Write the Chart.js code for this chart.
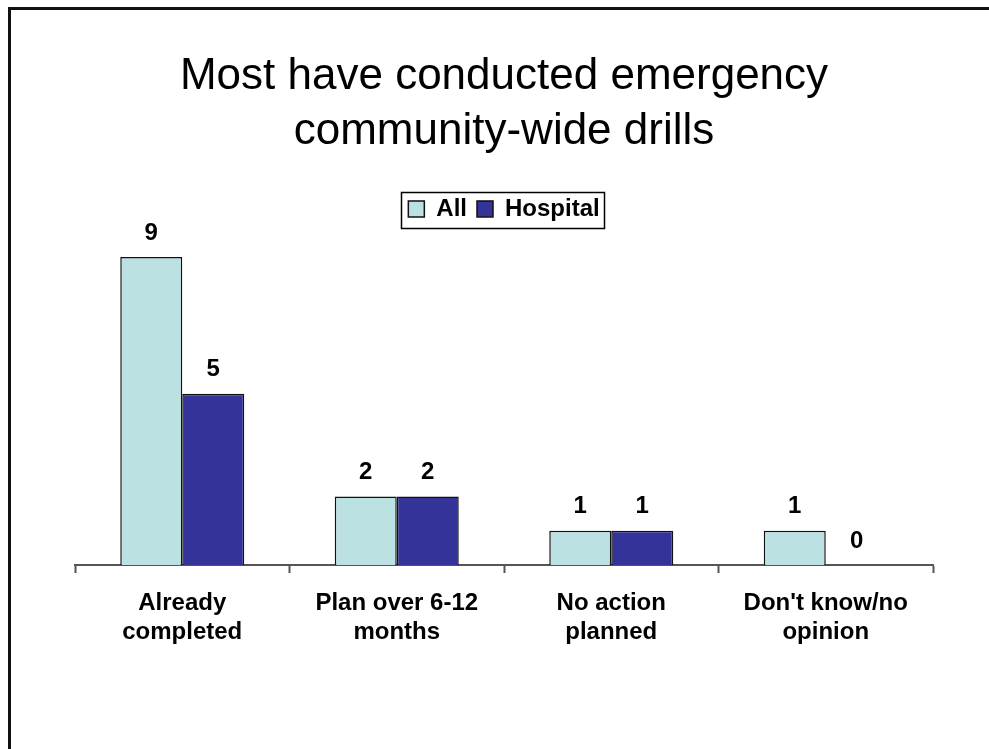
<!DOCTYPE html>
<html>
<head>
<meta charset="utf-8">
<script src="https://cdn.jsdelivr.net/npm/chart.js@4.4.0/dist/chart.umd.min.js"></script>
<style>
  body { margin: 0; background: #fff; }
  #wrap { position: relative; width: 989px; height: 749px; overflow: hidden; }
  #frame { position: absolute; left: 8px; top: 7px; width: 1000px; height: 800px;
           border-top: 3px solid #111; border-left: 3px solid #111; pointer-events: none; }
  canvas { position: absolute; left: 0; top: 0; }
</style>
</head>
<body>
<div id="wrap">
  <canvas id="chart" width="989" height="749"></canvas>
  <div id="frame"></div>
</div>
<script>
// chart data
const categories = [
    ['Already', 'completed'],
    ['Plan over 6-12', 'months'],
    ['No action', 'planned'],
    ["Don't know/no", 'opinion']
];
const allValues = [9, 2, 1, 1];
const hospitalValues = [5, 2, 1, 0];
const seriesNames = ['All', 'Hospital'];
const titleLines = ['Most have conducted emergency', 'community-wide drills'];

const FONT = "'Liberation Sans', Arial, sans-serif";

//Value labels above each bar
const valueLabels = {
    id: 'valueLabels',
    afterDatasetsDraw(chart) {
        const ctx = chart.ctx;
        ctx.save();
        ctx.font = `bold 24px ${FONT}`;
        ctx.fillStyle = '#000';
        ctx.textAlign = 'center';
        ctx.textBaseline = 'middle';
        chart.data.datasets.forEach((ds, i) => {
            chart.getDatasetMeta(i).data.forEach((bar, j) => {
                ctx.fillText(String(ds.data[j]), bar.x, bar.y - 24);
            });
        });
        ctx.restore();
    }
};

//Box around the legend
const legendBox = {
    id: 'legendBox',
    afterDraw(chart) {
        const boxes = chart.legend.legendHitBoxes;
        if (!boxes || !boxes.length) return;
        let l = Infinity, r = -Infinity, t = Infinity, b = -Infinity;
        boxes.forEach(h => {
            l = Math.min(l, h.left); r = Math.max(r, h.left + h.width);
            t = Math.min(t, h.top); b = Math.max(b, h.top + h.height);
        });
        const ctx = chart.ctx;
        ctx.save();
        ctx.strokeStyle = '#000';
        ctx.lineWidth = 1.5;
        ctx.strokeRect(Math.round(l - 7) + 0.5, Math.round(t - 5) + 0.5, Math.round(r - l + 12), Math.round(b - t + 12));
        ctx.restore();
    }
};

new Chart(document.getElementById('chart'), {
    type: 'bar',
    data: {
        labels: categories,
        datasets: [{
            label: seriesNames[0],
            data: allValues,
            backgroundColor: '#BCE1E3',
            borderColor: '#111',
            borderWidth: 1.5
        },
        {
            label: seriesNames[1],
            data: hospitalValues,
            backgroundColor: '#333399',
            borderColor: '#111',
            borderWidth: 1.5
        }]
    },
    options: {
        responsive: false,
        animation: false,
        categoryPercentage: 0.578,
        barPercentage: 1,
        layout: { padding: { left: 75, right: 56, top: 0, bottom: 74 } },
        plugins: {
            title: {
                display: true,
                text: titleLines,
                color: '#000',
                font: { family: FONT, size: 44, weight: 'normal', lineHeight: 1.26 },
                padding: { top: 49, bottom: 27 }
            },
            legend: {
                display: true,
                position: 'top',
                labels: {
                    color: '#000',
                    font: { family: FONT, size: 24, weight: 'bold' },
                    boxWidth: 16,
                    boxHeight: 16,
                    padding: 10
                }
            },
            tooltip: { enabled: false }
        },
        scales: {
            x: {
                grid: {
                    display: true,
                    drawOnChartArea: false,
                    drawTicks: true,
                    tickLength: 8,
                    tickWidth: 2,
                    tickColor: '#555'
                },
                border: { display: true, color: '#555', width: 2 },
                ticks: {
                    color: '#000',
                    padding: 16,
                    maxRotation: 0,
                    autoSkip: false,
                    font: { family: FONT, size: 24, weight: 'bold', lineHeight: 1.2 }
                },
                afterFit: (scale) => { scale.height = 110; }
            },
            y: {
                display: false,
                min: 0,
                max: 9.76
            }
        }
    },
    plugins: [valueLabels, legendBox]
});
</script>
</body>
</html>
